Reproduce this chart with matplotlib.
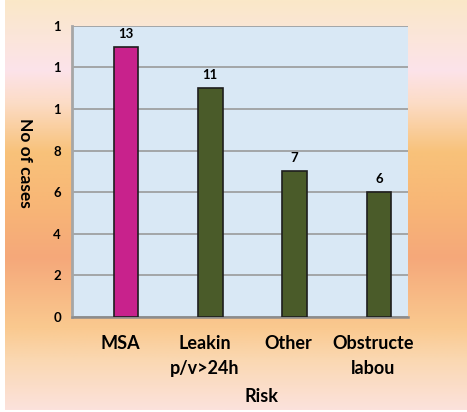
import matplotlib.pyplot as plt
import numpy as np
from matplotlib.colors import LinearSegmentedColormap
from matplotlib.transforms import blended_transform_factory

risks = ["MSA", "Leakin\np/v>24h", "Other", "Obstructe\nlabou"]
cases = [13, 11, 7, 6]
bar_colors = ["#C8228C", "#4A5B29", "#4A5B29", "#4A5B29"]
ytick_vals = [0, 2, 4, 6, 8, 10, 12, 14]
ytick_text = ["0", "2", "4", "6", "8", "1", "1", "1"]

plt.rcParams["font.family"] = ["Lato", "DejaVu Sans"]
plt.rcParams["font.weight"] = "bold"

fig = plt.figure(figsize=(4.67, 4.12), dpi=100)
fig.patch.set_facecolor("white")

# vertical gradient behind everything
bg = fig.add_axes([5 / 467, 2 / 412, 462 / 467, 410 / 412], zorder=-5)
bg.axis("off")
stops = [(0.00, "#FAE8C8"), (0.17, "#FCE3EA"), (0.25, "#FCDCC6"),
         (0.37, "#F8C27A"), (0.50, "#F8B676"), (0.63, "#F5A87A"),
         (0.80, "#FAC98F"), (0.88, "#FAD8B2"), (1.00, "#FCE2DC")]
cmap = LinearSegmentedColormap.from_list("bgfade", stops)
grad = np.linspace(0, 1, 256).reshape(-1, 1)
bg.imshow(grad, aspect="auto", cmap=cmap, extent=[0, 1, 0, 1], origin="upper")
bg.set_xlim(0, 1)
bg.set_ylim(0, 1)

ax = fig.add_axes([72 / 467, 95 / 412, 336 / 467, 291.3 / 412])
ax.set_facecolor("#D9E8F5")
x = np.arange(len(risks))
bars = ax.bar(x, cases, width=0.29, color=bar_colors, edgecolor="#1E1E1E",
              linewidth=1.2, zorder=3)
for b, v in zip(bars, cases):
    ax.annotate(str(v), (b.get_x() + b.get_width() / 2, v),
                xytext=(0, 5), textcoords="offset points",
                ha="center", va="bottom", fontsize=9.5, fontweight="bold")

ax.set_xlim(-0.64, 3.345)
ax.set_ylim(0, 14)
ax.set_yticks(ytick_vals)
ax.set_yticklabels(ytick_text, fontsize=9.5, fontweight="bold")
ax.tick_params(axis="y", length=0, pad=8)
ax.set_xticks([])
ax.yaxis.grid(True, color="#9A9A9A", linewidth=1.2)
ax.set_axisbelow(True)
for s in ["top", "right"]:
    ax.spines[s].set_visible(False)
ax.spines["left"].set_color("#A6A6A6")
ax.spines["left"].set_linewidth(2)
ax.spines["bottom"].set_color("#8C8C8C")
ax.spines["bottom"].set_linewidth(1.8)

tr = blended_transform_factory(ax.transData, ax.transAxes)
for xi, lab in zip(x, risks):
    ax.text(xi - 0.07, -0.062, lab, transform=tr, ha="center", va="top",
            fontsize=13, fontweight="bold", linespacing=1.6)

fig.text(262 / 467, 1 - 397 / 412, "Risk", ha="center", va="center",
         fontsize=13, fontweight="bold")
fig.text(25 / 467, 1 - 163 / 412, "No of cases", ha="center", va="center",
         rotation=-90, fontsize=12.5, fontweight="bold")

fig.savefig("out.png", dpi=100)
